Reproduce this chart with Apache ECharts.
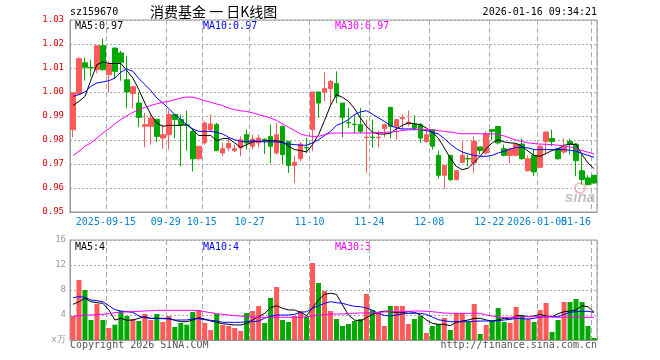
<!DOCTYPE html>
<html><head><meta charset="utf-8">
<script src="https://cdn.jsdelivr.net/npm/echarts@6/dist/echarts.min.js"></script>
<style>html,body{margin:0;padding:0;background:#fff}#c{width:660px;height:360px}</style>
</head><body><div id="c"></div>
<script>
// ---------- data ----------
const dates = [
'2025-09-05','2025-09-08','2025-09-09','2025-09-10','2025-09-11','2025-09-12','2025-09-15','2025-09-16','2025-09-17','2025-09-18',
'2025-09-19','2025-09-22','2025-09-23','2025-09-24','2025-09-25','2025-09-26','2025-09-29','2025-09-30','2025-10-09','2025-10-10',
'2025-10-13','2025-10-14','2025-10-15','2025-10-16','2025-10-17','2025-10-20','2025-10-21','2025-10-22','2025-10-23','2025-10-24',
'2025-10-27','2025-10-28','2025-10-29','2025-10-30','2025-10-31','2025-11-03','2025-11-04','2025-11-05','2025-11-06','2025-11-07',
'2025-11-10','2025-11-11','2025-11-12','2025-11-13','2025-11-14','2025-11-17','2025-11-18','2025-11-19','2025-11-20','2025-11-21',
'2025-11-24','2025-11-25','2025-11-26','2025-11-27','2025-11-28','2025-12-01','2025-12-02','2025-12-03','2025-12-04','2025-12-05',
'2025-12-08','2025-12-09','2025-12-10','2025-12-11','2025-12-12','2025-12-15','2025-12-16','2025-12-17','2025-12-18','2025-12-19',
'2025-12-22','2025-12-23','2025-12-24','2025-12-25','2025-12-26','2025-12-29','2025-12-30','2025-12-31','2026-01-05','2026-01-06',
'2026-01-07','2026-01-08','2026-01-09','2026-01-12','2026-01-13','2026-01-14','2026-01-15','2026-01-16'];

// [open, close, low, high]
const kdata = [
[0.9843,0.9996,0.9811,1.0000],[0.9992,1.0139,0.9990,1.0144],[1.0122,1.0103,1.0047,1.0144],[1.0102,1.0100,1.0065,1.0135],
[1.0093,1.0193,1.0079,1.0193],[1.0193,1.0093,1.0089,1.0222],[1.0072,1.0114,1.0000,1.0128],[1.0183,1.0086,1.0054,1.0186],
[1.0163,1.0124,1.0047,1.0172],[1.0051,1.0000,0.9933,1.0151],[0.9994,1.0022,0.9931,1.0022],[0.9954,0.9894,0.9853,1.0000],
[0.9857,0.9864,0.9769,0.9913],[0.9857,0.9892,0.9781,0.9913],[0.9885,0.9815,0.9792,0.9889],[0.9808,0.9822,0.9764,0.9864],
[0.9822,0.9906,0.9760,0.9926],[0.9906,0.9885,0.9808,0.9906],[0.9885,0.9864,0.9690,0.9906],[0.9863,0.9861,0.9756,0.9922],
[0.9836,0.9722,0.9669,0.9850],[0.9722,0.9774,0.9714,0.9774],[0.9788,0.9871,0.9781,0.9878],[0.9843,0.9867,0.9836,0.9906],
[0.9864,0.9756,0.9753,0.9871],[0.9746,0.9764,0.9732,0.9788],[0.9767,0.9785,0.9753,0.9808],[0.9756,0.9764,0.9750,0.9781],
[0.9767,0.9801,0.9732,0.9815],[0.9822,0.9788,0.9760,0.9843],[0.9774,0.9804,0.9760,0.9822],[0.9788,0.9808,0.9769,0.9822],
[0.9803,0.9801,0.9742,0.9806],[0.9815,0.9774,0.9704,0.9864],[0.9746,0.9822,0.9739,0.9871],[0.9856,0.9739,0.9700,0.9861],
[0.9794,0.9694,0.9663,0.9797],[0.9694,0.9707,0.9621,0.9732],[0.9722,0.9783,0.9711,0.9792],[0.9769,0.9767,0.9746,0.9808],
[0.9843,1.0000,0.9753,1.0000],[1.0000,0.9954,0.9892,1.0000],[1.0000,1.0014,0.9961,1.0083],[1.0014,1.0044,0.9940,1.0051],
[1.0035,0.9982,0.9954,1.0086],[0.9954,0.9894,0.9811,0.9954],[0.9873,0.9871,0.9850,0.9933],[0.9866,0.9864,0.9829,0.9903],
[0.9864,0.9836,0.9829,0.9933],[0.9810,0.9812,0.9663,0.9885],[0.9812,0.9810,0.9769,0.9885],[0.9810,0.9812,0.9769,0.9839],
[0.9847,0.9864,0.9811,0.9867],[0.9936,0.9857,0.9808,0.9936],[0.9857,0.9885,0.9801,0.9885],[0.9889,0.9894,0.9843,0.9906],
[0.9867,0.9874,0.9857,0.9922],[0.9867,0.9850,0.9839,0.9903],[0.9864,0.9808,0.9788,0.9871],[0.9794,0.9822,0.9788,0.9843],
[0.9843,0.9774,0.9760,0.9843],[0.9736,0.9653,0.9639,0.9756],[0.9653,0.9694,0.9597,0.9694],[0.9736,0.9635,0.9628,0.9736],
[0.9635,0.9672,0.9631,0.9672],[0.9707,0.9736,0.9704,0.9794],[0.9723,0.9721,0.9690,0.9739],[0.9704,0.9794,0.9663,0.9815],
[0.9771,0.9756,0.9739,0.9771],[0.9746,0.9825,0.9739,0.9836],[0.9843,0.9836,0.9801,0.9843],[0.9856,0.9788,0.9781,0.9856],
[0.9764,0.9736,0.9732,0.9781],[0.9736,0.9762,0.9704,0.9767],[0.9736,0.9781,0.9732,0.9783],[0.9783,0.9722,0.9718,0.9806],
[0.9672,0.9722,0.9669,0.9736],[0.9736,0.9667,0.9649,0.9760],[0.9686,0.9774,0.9683,0.9781],[0.9794,0.9833,0.9739,0.9836],
[0.9806,0.9794,0.9774,0.9843],[0.9764,0.9722,0.9718,0.9767],[0.9750,0.9769,0.9742,0.9806],[0.9794,0.9781,0.9739,0.9806],
[0.9783,0.9714,0.9649,0.9788],[0.9672,0.9635,0.9614,0.9739],[0.9642,0.9614,0.9611,0.9653],[0.9653,0.9621,0.9617,0.9653]];

const ma5 = [0.9944,0.9961,0.9982,1.0051,1.0114,1.0125,1.0119,1.0119,1.0119,1.0089,1.0058,1.0010,0.9954,0.9906,0.9871,0.9857,0.9861,0.9861,0.9861,0.9864,
0.9843,0.9819,0.9819,0.9819,0.9797,0.9806,0.9806,0.9788,0.9769,0.9781,0.9792,0.9794,0.9797,0.9797,0.9797,0.9792,0.9774,0.9760,0.9756,0.9750,
0.9781,0.9822,0.9881,0.9944,0.9989,0.9978,0.9961,0.9931,0.9892,0.9857,0.9833,0.9825,0.9825,0.9828,0.9847,0.9861,0.9871,0.9868,0.9864,0.9850,
0.9832,0.9808,0.9767,0.9725,0.9690,0.9676,0.9683,0.9707,0.9732,0.9764,0.9788,0.9801,0.9792,0.9788,0.9786,0.9774,0.9753,0.9736,0.9732,0.9744,
0.9756,0.9764,0.9778,0.9783,0.9781,0.9739,0.9704,0.9681];
const ma10 = [0.9982,0.9989,1.0000,1.0024,1.0038,1.0042,1.0047,1.0058,1.0083,1.0096,1.0086,1.0056,1.0031,1.0006,0.9975,0.9954,0.9931,0.9906,0.9885,0.9864,
0.9846,0.9836,0.9836,0.9836,0.9832,0.9825,0.9811,0.9801,0.9794,0.9792,0.9797,0.9794,0.9792,0.9792,0.9792,0.9788,0.9783,0.9781,0.9778,0.9778,
0.9788,0.9801,0.9819,0.9836,0.9861,0.9871,0.9885,0.9906,0.9917,0.9922,0.9908,0.9892,0.9878,0.9861,0.9850,0.9846,0.9846,0.9846,0.9843,0.9839,
0.9833,0.9825,0.9806,0.9783,0.9764,0.9750,0.9742,0.9736,0.9732,0.9732,0.9736,0.9746,0.9753,0.9762,0.9769,0.9769,0.9767,0.9760,0.9760,0.9760,
0.9760,0.9760,0.9760,0.9757,0.9753,0.9744,0.9736,0.9728];
const ma30 = [0.9736,0.9753,0.9774,0.9788,0.9808,0.9829,0.9847,0.9867,0.9885,0.9901,0.9915,0.9926,0.9936,0.9944,0.9951,0.9957,0.9961,0.9968,0.9975,0.9979,
0.9978,0.9972,0.9964,0.9957,0.9950,0.9943,0.9933,0.9926,0.9922,0.9919,0.9913,0.9906,0.9899,0.9892,0.9881,0.9867,0.9853,0.9839,0.9825,0.9818,
0.9815,0.9815,0.9822,0.9828,0.9829,0.9829,0.9829,0.9829,0.9829,0.9829,0.9829,0.9831,0.9832,0.9833,0.9836,0.9840,0.9842,0.9843,0.9844,0.9843,
0.9842,0.9839,0.9836,0.9833,0.9829,0.9826,0.9826,0.9826,0.9826,0.9826,0.9826,0.9822,0.9817,0.9808,0.9800,0.9794,0.9788,0.9785,0.9783,0.9782,
0.9781,0.9778,0.9775,0.9771,0.9764,0.9756,0.9749,0.9742];

const vol = [3.84,9.6,8.0,3.2,5.76,3.2,1.92,2.45,4.64,3.84,3.36,3.04,4.16,3.2,4.16,2.88,3.84,2.08,2.72,2.45,
4.48,4.8,2.72,1.6,4.16,2.4,2.24,1.92,1.44,4.32,4.64,5.44,2.72,6.72,8.48,3.2,2.88,3.84,4.64,3.68,
12.32,9.12,7.84,4.64,3.36,2.24,2.56,3.04,3.36,7.36,4.8,4.32,2.24,5.44,5.44,5.44,2.56,3.36,3.84,1.12,
2.24,2.56,3.52,1.6,4.32,4.32,2.88,5.76,0.96,2.4,3.04,5.12,2.88,2.72,5.28,4.0,3.36,2.88,4.8,5.92,
1.28,3.2,6.08,6.08,6.56,6.08,2.24,0.32];
const vma5 = [5.71,6.13,6.67,6.13,5.97,5.87,4.8,3.2,3.47,3.15,3.2,3.47,3.73,3.47,3.47,3.47,3.47,3.15,2.93,2.93,
3.2,3.57,3.36,3.04,2.83,2.61,2.51,2.4,2.4,2.67,3.2,3.73,4.27,5.17,5.49,5.07,4.8,4.8,4.43,3.89,
5.17,6.4,7.31,7.47,7.31,5.6,4.0,3.2,3.04,3.57,4.11,4.43,4.64,4.53,4.37,4.37,4.53,4.43,4.0,3.2,
2.67,2.51,2.51,2.29,2.83,3.04,3.2,3.47,3.47,3.2,3.04,3.2,3.47,3.36,3.89,3.89,3.73,3.84,4.11,3.84,
3.73,4.21,4.53,4.64,4.8,5.49,5.33,4.43];
const vma10 = [6.77,6.93,6.83,6.4,6.29,6.13,5.49,4.85,4.64,4.53,4.43,3.84,3.57,3.47,3.47,3.41,3.36,3.2,3.2,3.2,
3.41,3.41,3.25,3.15,3.04,2.83,2.83,2.83,2.83,2.93,2.93,3.04,3.47,3.79,4.0,4.0,4.0,4.11,4.43,4.53,
5.07,5.49,5.87,6.13,5.97,5.87,5.6,5.39,5.33,5.12,4.75,4.27,3.95,3.84,4.0,4.16,4.27,4.27,4.27,4.11,
3.68,3.25,3.09,2.93,2.93,2.93,2.93,2.99,3.04,3.04,3.04,3.09,3.2,3.31,3.47,3.41,3.36,3.47,3.68,3.73,
3.73,3.73,4.11,4.43,4.53,4.59,4.59,4.43];
const vma30 = [3.79,3.89,3.95,4.0,4.05,4.11,4.21,4.37,4.43,4.53,4.53,4.59,4.64,4.69,4.75,4.75,4.75,4.75,4.75,4.75,
4.75,4.69,4.53,4.37,4.21,4.11,4.0,3.89,3.84,3.73,3.68,3.63,3.63,3.63,3.63,3.63,3.63,3.63,3.63,3.73,
3.84,3.95,4.05,4.16,4.16,4.16,4.27,4.27,4.32,4.32,4.37,4.43,4.48,4.53,4.53,4.59,4.59,4.64,4.64,4.59,
4.53,4.43,4.32,4.27,4.27,4.27,4.27,4.27,4.27,4.0,3.84,3.68,3.57,3.63,3.68,3.73,3.73,3.73,3.73,3.73,
3.68,3.63,3.63,3.63,3.63,3.63,3.63,3.63];

const tickDates = ['2025-09-15','2025-09-29','2025-10-15','2025-10-27','2025-11-10','2025-11-24','2025-12-08','2025-12-22','2026-01-05','2026-01-16'];
const tickLabels = ['2025-09-15','09-29','10-15','10-27','11-10','11-24','12-08','12-22','2026-01-05','01-16'];
const priceLegend = ['MA5:0.97','MA10:0.97','MA30:0.97'];
const volLegend = ['MA5:4','MA10:4','MA30:3'];

// ---------- chart ----------
const tickIdx = tickDates.map(d => dates.indexOf(d));
const lastIdx = dates.length - 1;
const UP = '#ff5a5a', DOWN = '#00a800';
const MONO = '"DejaVu Sans Mono", "Liberation Mono", monospace';
const GRID_C = '#aaaaaa';
const LBL_C = '#0a84d0';

const chart = echarts.init(document.getElementById('c'), null, {renderer: 'canvas'});

const xBase = (gi, showLabel) => ({
  type: 'category', gridIndex: gi, data: dates, boundaryGap: true,
  axisLine: {show: true, lineStyle: {color: '#999'}},
  axisTick: {show: false},
  splitLine: {show: true, interval: (i) => tickIdx.includes(i), lineStyle: {color: GRID_C, type: [5, 3], width: 1}},
  axisLabel: showLabel ? {
    show: true, interval: (i) => tickIdx.includes(i) && i !== lastIdx, color: LBL_C,
    fontFamily: MONO, fontSize: 10, margin: 5, padding: [0, 6, 0, 0],
    formatter: (v, i) => {
      const k = tickIdx.indexOf(i);
      return (k < 0 || i === lastIdx) ? '' : tickLabels[k];
    }
  } : {show: false}
});

// separate axis carrying only the last date label (right-aligned to the frame like the original)
const xLast = {
  type: 'category', gridIndex: 0, data: dates, boundaryGap: true, position: 'bottom',
  axisLine: {show: false}, axisTick: {show: false}, splitLine: {show: false},
  axisLabel: {
    show: true, interval: (i) => i === lastIdx, showMaxLabel: true, color: LBL_C,
    fontFamily: MONO, fontSize: 10, margin: 5, padding: [0, 6, 0, 0],
    formatter: (v, i) => i === lastIdx ? '{e|' + tickLabels[tickLabels.length - 1] + '}' : '',
    rich: {e: {color: LBL_C, fontFamily: MONO, fontSize: 10, padding: [0, 30, 0, 0]}}
  }
};

const lineS = (name, data, color, xi, yi) => ({
  name, type: 'line', data, xAxisIndex: xi, yAxisIndex: yi, showSymbol: false, symbol: 'none',
  lineStyle: {color, width: 1}, itemStyle: {color}, silent: true, z: 4
});

const option = {
  animation: false,
  backgroundColor: '#ffffff',
  grid: [
    {left: 70, top: 20, width: 527, height: 192, show: true, borderColor: '#999', borderWidth: 1, backgroundColor: 'transparent'},
    {left: 70, top: 240, width: 527, height: 100, show: true, borderColor: '#999', borderWidth: 1, backgroundColor: 'transparent'}
  ],
  xAxis: [xBase(0, true), xBase(1, false), xLast],
  yAxis: [
    {type: 'value', gridIndex: 0, min: 0.95, max: 1.03, interval: 0.01, scale: true,
     axisLine: {show: true, lineStyle: {color: '#999'}}, axisTick: {show: false},
     axisLabel: {color: '#e00000', fontFamily: MONO, fontSize: 9, margin: 6, formatter: v => v.toFixed(2)},
     splitLine: {show: true, lineStyle: {color: GRID_C, type: [2, 2]}}},
    {type: 'value', gridIndex: 1, min: 0, max: 16, interval: 4,
     axisLine: {show: true, lineStyle: {color: '#999'}}, axisTick: {show: false},
     axisLabel: {color: '#999', fontFamily: MONO, fontSize: 9, margin: 4, formatter: v => v === 0 ? 'x万' : String(v)},
     splitLine: {show: true, lineStyle: {color: GRID_C, type: [2, 2]}}}
  ],
  series: [
    {name: 'K', type: 'candlestick', data: kdata, xAxisIndex: 0, yAxisIndex: 0, barWidth: 5, silent: true,
     itemStyle: {color: UP, color0: DOWN, borderColor: UP, borderColor0: DOWN, borderWidth: 1}},
    lineS('MA5', ma5, '#000000', 0, 0),
    lineS('MA10', ma10, '#0000ff', 0, 0),
    lineS('MA30', ma30, '#ff00ff', 0, 0),
    {name: 'VOL', type: 'bar', xAxisIndex: 1, yAxisIndex: 1, barWidth: 5, silent: true,
     data: vol.map((v, i) => ({value: v, itemStyle: {color: kdata[i][1] > kdata[i][0] ? UP : DOWN}}))},
    lineS('VMA5', vma5, '#000000', 1, 1),
    lineS('VMA10', vma10, '#0000ff', 1, 1),
    lineS('VMA30', vma30, '#ff00ff', 1, 1)
  ],
  graphic: [
    {type: 'text', left: 70, top: 7, style: {text: 'sz159670', fill: '#000', font: '10px ' + MONO}},
    {type: 'text', left: 150, top: 5, style: {text: '消费基金 一 日K线图', fill: '#000', font: '14px "Noto Sans CJK SC"'}},
    {type: 'text', right: 63, top: 7, style: {text: '2026-01-16 09:34:21', fill: '#000', font: '10px ' + MONO}},
    {type: 'text', left: 75, top: 21, style: {text: priceLegend[0], fill: '#000', font: '10px ' + MONO}},
    {type: 'text', left: 203, top: 21, style: {text: priceLegend[1], fill: '#0000ff', font: '10px ' + MONO}},
    {type: 'text', left: 335, top: 21, style: {text: priceLegend[2], fill: '#ff00ff', font: '10px ' + MONO}},
    {type: 'text', left: 75, top: 242, style: {text: volLegend[0], fill: '#000', font: '10px ' + MONO}},
    {type: 'text', left: 203, top: 242, style: {text: volLegend[1], fill: '#0000ff', font: '10px ' + MONO}},
    {type: 'text', left: 335, top: 242, style: {text: volLegend[2], fill: '#ff00ff', font: '10px ' + MONO}},
    {type: 'text', left: 70, top: 340, style: {text: 'Copyright 2026 SINA.COM', fill: '#555', font: '10px ' + MONO}},
    {type: 'text', right: 63, top: 340, style: {text: 'http://finance.sina.com.cn', fill: '#555', font: '10px ' + MONO}},
    {type: 'circle', z: 0, shape: {cx: 580, cy: 188, r: 5}, style: {fill: 'none', stroke: 'rgba(235,140,140,0.55)', lineWidth: 2}},
    {type: 'text', z: 0, left: 565, top: 190, style: {text: 'sina', fill: 'rgba(150,150,150,0.6)', font: 'italic bold 15px "Liberation Sans"'}}
  ]
};
chart.setOption(option);
</script>
</body></html>
